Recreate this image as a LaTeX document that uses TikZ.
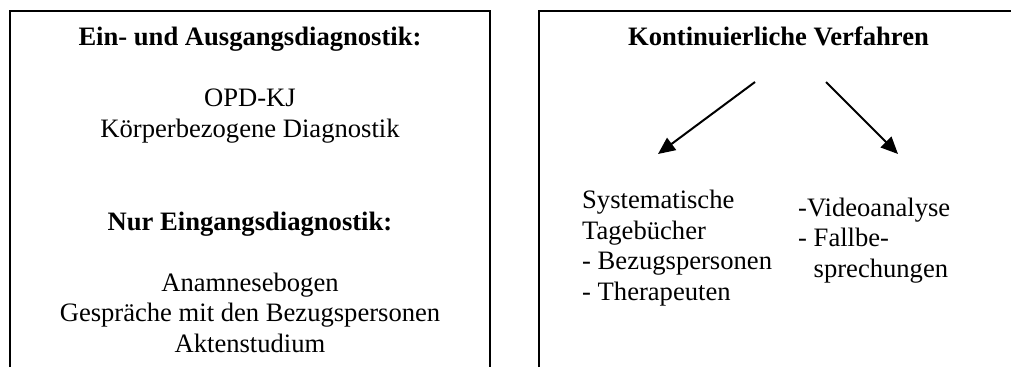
\documentclass[tikz,border=0pt]{standalone}
\usepackage{fontspec}
\setmainfont{Liberation Serif}
\usetikzlibrary{arrows.meta}
\begin{document}
\begin{tikzpicture}[x=1pt,y=-1pt,
  frame/.style={line width=2pt},
  txt/.style={font=\fontsize{26.6}{30.5}\selectfont, inner sep=0pt, anchor=base},
  head/.style={txt, font=\fontsize{26.6}{30.5}\selectfont\bfseries},
  link/.style={line width=2pt, -{Triangle[length=17pt,width=15pt]}}]
  \useasboundingbox (0,0) rectangle (1011,367);

  % open frames (no bottom edge; the right frame runs off the edge)
  \draw[frame] (10,367) -- (10,11) -- (490,11) -- (490,367);
  \draw[frame] (539,367) -- (539,11) -- (1011,11);

  % left frame: diagnostics (multi-line nodes sit on their last baseline)
  \node[head] (h1) at (250,45) {Ein- und Ausgangsdiagnostik:};
  \node[txt, align=center] (l1) at (250,137) {OPD-KJ\\Körperbezogene Diagnostik};
  \node[head] (h2) at (250,230) {Nur Eingangsdiagnostik:};
  \node[txt, align=center] (l2) at (250,352) {Anamnesebogen\\Gespräche mit den Bezugspersonen\\Aktenstudium};

  % right frame: continuous procedures
  \node[head] (h3) at (778.5,45) {Kontinuierliche Verfahren};
  \node[txt, align=left, anchor=base west] (r1) at (582,300)
    {Systematische\\Tagebücher\\- Bezugspersonen\\- Therapeuten};
  \node[txt, align=left, anchor=base west] (r2) at (798,277)
    {-Videoanalyse\\- Fallbe-\\\phantom{- }sprechungen};

  \coordinate (s1) at (755,82);
  \coordinate (e1) at (658,154);
  \coordinate (s2) at (826,82);
  \coordinate (e2) at (898,154);
  \draw[link] (s1) -- (e1);
  \draw[link] (s2) -- (e2);
\end{tikzpicture}
\end{document}
